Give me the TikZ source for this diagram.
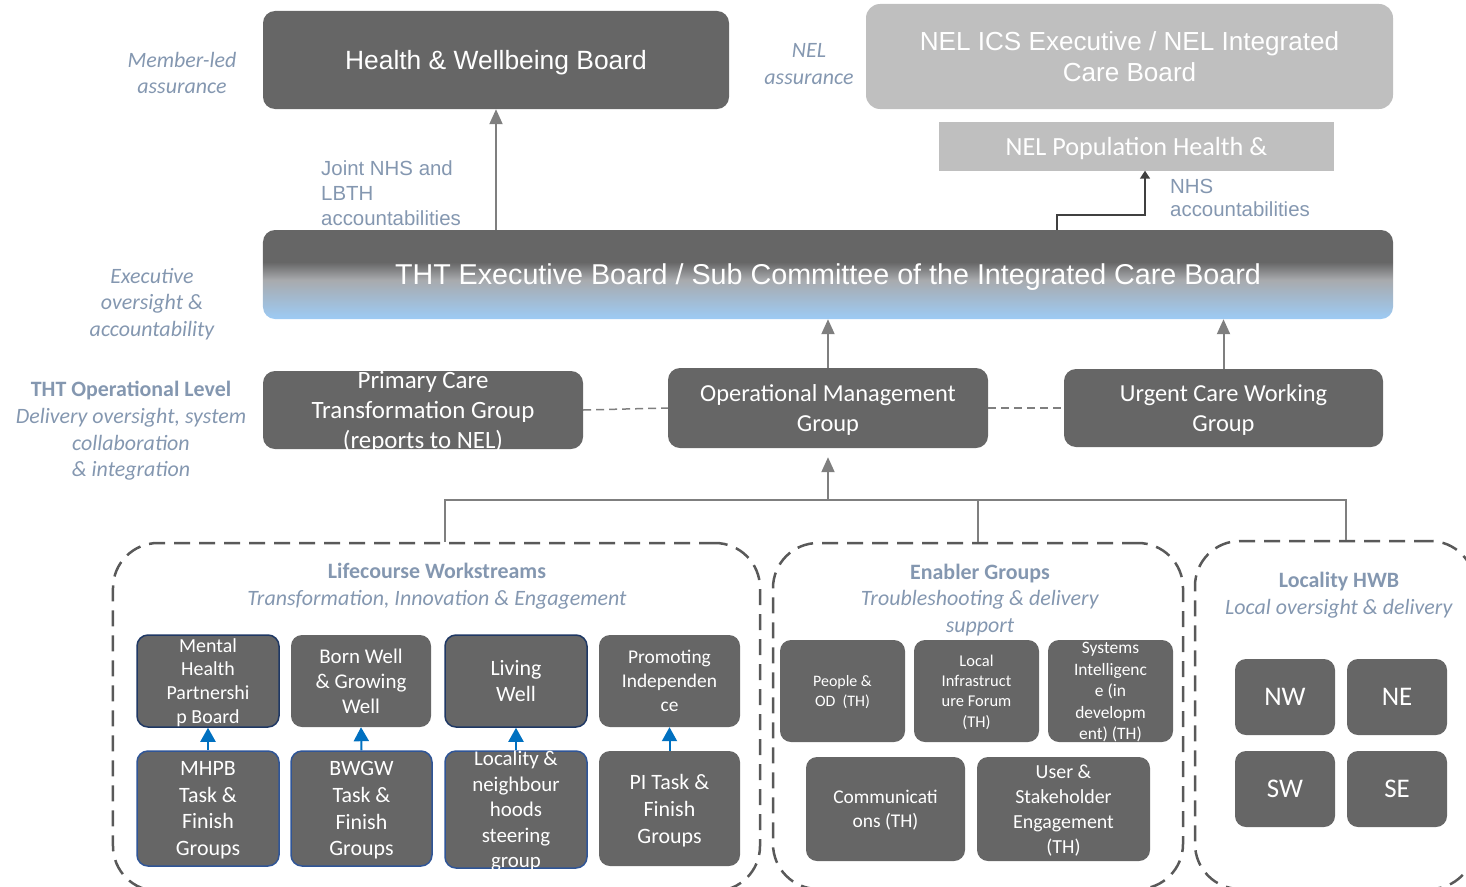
\documentclass[tikz,border=0pt]{standalone}
\usepackage{fontspec}
\setmainfont{Carlito}
\newfontfamily\arialf{Liberation Sans}
\usetikzlibrary{arrows.meta}
\definecolor{boxgray}{HTML}{666666}
\definecolor{lightbox}{HTML}{BFBFBF}
\definecolor{labelc}{HTML}{8497B0}
\definecolor{dashc}{HTML}{595959}
\definecolor{linec}{HTML}{7F7F7F}
\definecolor{bluearr}{HTML}{0070C0}
\definecolor{navyb}{HTML}{1F3864}
\definecolor{blueb}{HTML}{2F5597}
\definecolor{thtblue}{HTML}{9DCBF5}
\definecolor{thtmid}{HTML}{A8AAAD}
\definecolor{darkl}{HTML}{404040}
\pgfdeclareverticalshading{thtshade}{100bp}{color(0bp)=(thtblue); color(25bp)=(thtblue); color(47bp)=(thtmid); color(57bp)=(boxgray); color(100bp)=(boxgray)}
\newcommand\fsz[2]{\fontsize{#1}{#2}\selectfont}
\tikzset{
  sz/.style 2 args={minimum width=#1bp, minimum height=#2bp},
  box/.style={fill=boxgray, rounded corners=12bp, text=white, align=center, inner sep=0pt, text depth=0pt},
  lbox/.style={fill=lightbox, rounded corners=14bp, text=white, align=center, inner sep=0pt, text depth=0pt},
  sbox/.style={fill=boxgray, rounded corners=11bp, text=white, align=center, inner sep=0pt, text depth=0pt},
  cont/.style={draw=dashc, line width=2.5bp, dash pattern=on 16bp off 9bp, rounded corners=45bp, inner sep=0pt},
  lbl/.style={text=labelc, align=center, inner sep=0pt},
  garr/.style={draw=linec, line width=2bp, -{Triangle[length=15bp,width=13bp]}},
  barr/.style={draw=bluearr, line width=2bp, -{Triangle[length=14bp,width=15bp]}},
  dlink/.style={draw=linec, line width=1.5bp, dash pattern=on 8bp off 5bp},
  busl/.style={draw=linec, line width=1.8bp},
}
\begin{document}
\begin{tikzpicture}[x=1bp,y=-1bp]
\useasboundingbox (0,0) rectangle (1466,886);
\clip (0,0) rectangle (1466,886);

% top level
\node[box, sz={466}{98}, font=\arialf\fsz{26.5}{31}] (hwb) at (496,60) {Health \& Wellbeing Board};
\node[lbox, sz={527}{105}, font=\arialf\fsz{26.2}{31}] (nelics) at (1129.5,56.5) {NEL ICS Executive / NEL Integrated\\Care Board};
\node[fill=lightbox, sz={395}{49}, text=white, font=\fsz{26.3}{30}, inner sep=0pt, text depth=0pt] (nelpop) at (1136.5,146) {NEL Population Health \&};
\node[shade, shading=thtshade, rounded corners=12bp, sz={1130}{89}, text=white, inner sep=0pt, text depth=0pt, font=\arialf\fsz{28.8}{34}] (tht) at (828,274.5) {THT Executive Board / Sub Committee of the Integrated Care Board};

% side labels
\node[lbl, font=\itshape\fsz{22}{27}] (l1) at (182,73) {Member-led\\assurance};
\node[lbl, font=\itshape\fsz{22}{27}] (l2) at (809,64) {NEL\\assurance};
\node[lbl, font=\itshape\fsz{22}{26.5}] (l3) at (152,304) {Executive\\oversight \&\\accountability};
\node[lbl, font=\fsz{22}{26.7}] (l4) at (131,431) {\textbf{THT Operational Level}\\\textit{Delivery oversight, system}\\\textit{collaboration}\\\textit{\& integration}};
\node[lbl, align=left, anchor=west, font=\arialf\fsz{20.5}{25}] (l5) at (321,193) {Joint NHS and\\LBTH\\accountabilities};
\node[lbl, align=left, anchor=west, font=\arialf\fsz{20.5}{24}] (l6) at (1170,198) {NHS\\accountabilities};

% operational level
\node[box, sz={320}{78}, font=\fsz{25}{30}] (pc) at (423,410) {Primary Care\\Transformation Group\\(reports to NEL)};
\node[box, sz={320}{80}, font=\fsz{24.5}{30}] (omg) at (828,408) {Operational Management\\Group};
\node[box, sz={319}{78}, font=\fsz{24.5}{30}] (ucwg) at (1223.5,408) {Urgent Care Working\\Group};

% containers
\node[cont, sz={647}{348}] (life) at (436.5,717) {};
\node[cont, sz={410}{346}] (enab) at (978,716) {};
\node[cont, sz={280}{348}] (loc) at (1335,715) {};

\node[lbl, font=\fsz{22}{27}] (lifet) at (437,586) {\textbf{Lifecourse Workstreams}\\\textit{Transformation, Innovation \& Engagement}};
\node[lbl, font=\fsz{22}{26.5}] (enabt) at (980,600) {\textbf{Enabler Groups}\\\textit{Troubleshooting \& delivery}\\\textit{support}};
\node[lbl, font=\fsz{22}{27}] (loct) at (1339,595) {\textbf{Locality HWB}\\\textit{Local oversight \& delivery}};

% lifecourse boxes
\node[sbox, draw=navyb, line width=1.5bp, sz={142}{92}, font=\fsz{20}{24}] (mh) at (208,681) {Mental\\Health\\Partnershi\\p Board};
\node[sbox, sz={140}{92}, font=\fsz{21}{25}] (bw) at (361,681) {Born Well\\\& Growing\\Well};
\node[sbox, draw=navyb, line width=1.5bp, sz={142}{92}, font=\fsz{22}{27}] (lw) at (516,681) {Living\\Well};
\node[sbox, sz={141}{92}, font=\fsz{19.5}{24}] (pi) at (669.5,681) {Promoting\\Independen\\ce};

\node[sbox, draw=blueb, line width=1.5bp, sz={142}{115}, font=\fsz{22}{27}] (mhpb) at (208,808.5) {MHPB\\Task \&\\Finish\\Groups};
\node[sbox, draw=blueb, line width=1.5bp, sz={141}{115}, font=\fsz{22}{27}] (bwgw) at (361.5,808.5) {BWGW\\Task \&\\Finish\\Groups};
\node[sbox, draw=blueb, line width=1.5bp, sz={142}{117}, font=\fsz{21}{25.7}] (lns) at (516,809.5) {Locality \&\\neighbour\\hoods\\steering\\group};
\node[sbox, sz={141}{115}, font=\fsz{22}{27}] (pitf) at (669.5,808.5) {PI Task \&\\Finish\\Groups};

% enabler boxes
\node[sbox, sz={125}{102}, font=\fsz{16}{20}] (ppl) at (842.5,691) {People \&\\OD~ (TH)};
\node[sbox, sz={125}{102}, font=\fsz{16.5}{20.3}] (lif) at (976.5,691) {Local\\Infrastruct\\ure Forum\\(TH)};
\node[sbox, sz={125}{102}, font=\fsz{17.5}{21.7}] (sys) at (1110.5,691) {Systems\\Intelligenc\\e (in\\developm\\ent) (TH)};
\node[sbox, sz={159}{104}, font=\fsz{19.5}{24}] (com) at (885.5,809) {Communicati\\ons (TH)};
\node[sbox, sz={173}{104}, font=\fsz{20}{25}] (usr) at (1063.5,809) {User \&\\Stakeholder\\Engagement\\(TH)};

% locality boxes
\node[sbox, sz={100}{76}, font=\fsz{27}{30}] (nw) at (1285,697) {NW};
\node[sbox, sz={100}{76}, font=\fsz{27}{30}] (ne) at (1397,697) {NE};
\node[sbox, sz={100}{76}, font=\fsz{27}{30}] (sw) at (1285,789) {SW};
\node[sbox, sz={100}{76}, font=\fsz{27}{30}] (se) at (1397,789) {SE};

% connectors
\draw[garr] (hwb.south |- tht.north) -- (hwb.south);
\draw[garr] (omg.north) -- (omg.north |- tht.south);
\draw[garr] (ucwg.north) -- (ucwg.north |- tht.south);
\draw[dlink] (pc.east) -- (omg.west);
\draw[dlink] (omg.east) -- (ucwg.west);

\coordinate (nhsx) at (1057,0);
\coordinate (nhsy) at (1145,215);
\draw[draw=darkl, line width=1.5bp, -{Triangle[length=8bp,width=10bp]}] (tht.north -| nhsx) |- (nhsy) -- (nelpop.south -| nhsy);

\coordinate (b1) at (445,500);
\coordinate (b2) at (1346,500);
\draw[busl] (b1 |- life.north) -- (b1) -- (b2) -- (b2 |- loc.north);
\draw[busl] (enab.north) -- (enab.north |- b1);
\draw[garr, shorten >=9bp] (omg.south |- b1) -- (omg.south);

\draw[barr] (mhpb.north) -- (mh.south);
\draw[barr] (bwgw.north) -- (bw.south);
\draw[barr] (lns.north) -- (lw.south);
\draw[barr] (pitf.north) -- (pi.south);
\end{tikzpicture}
\end{document}
